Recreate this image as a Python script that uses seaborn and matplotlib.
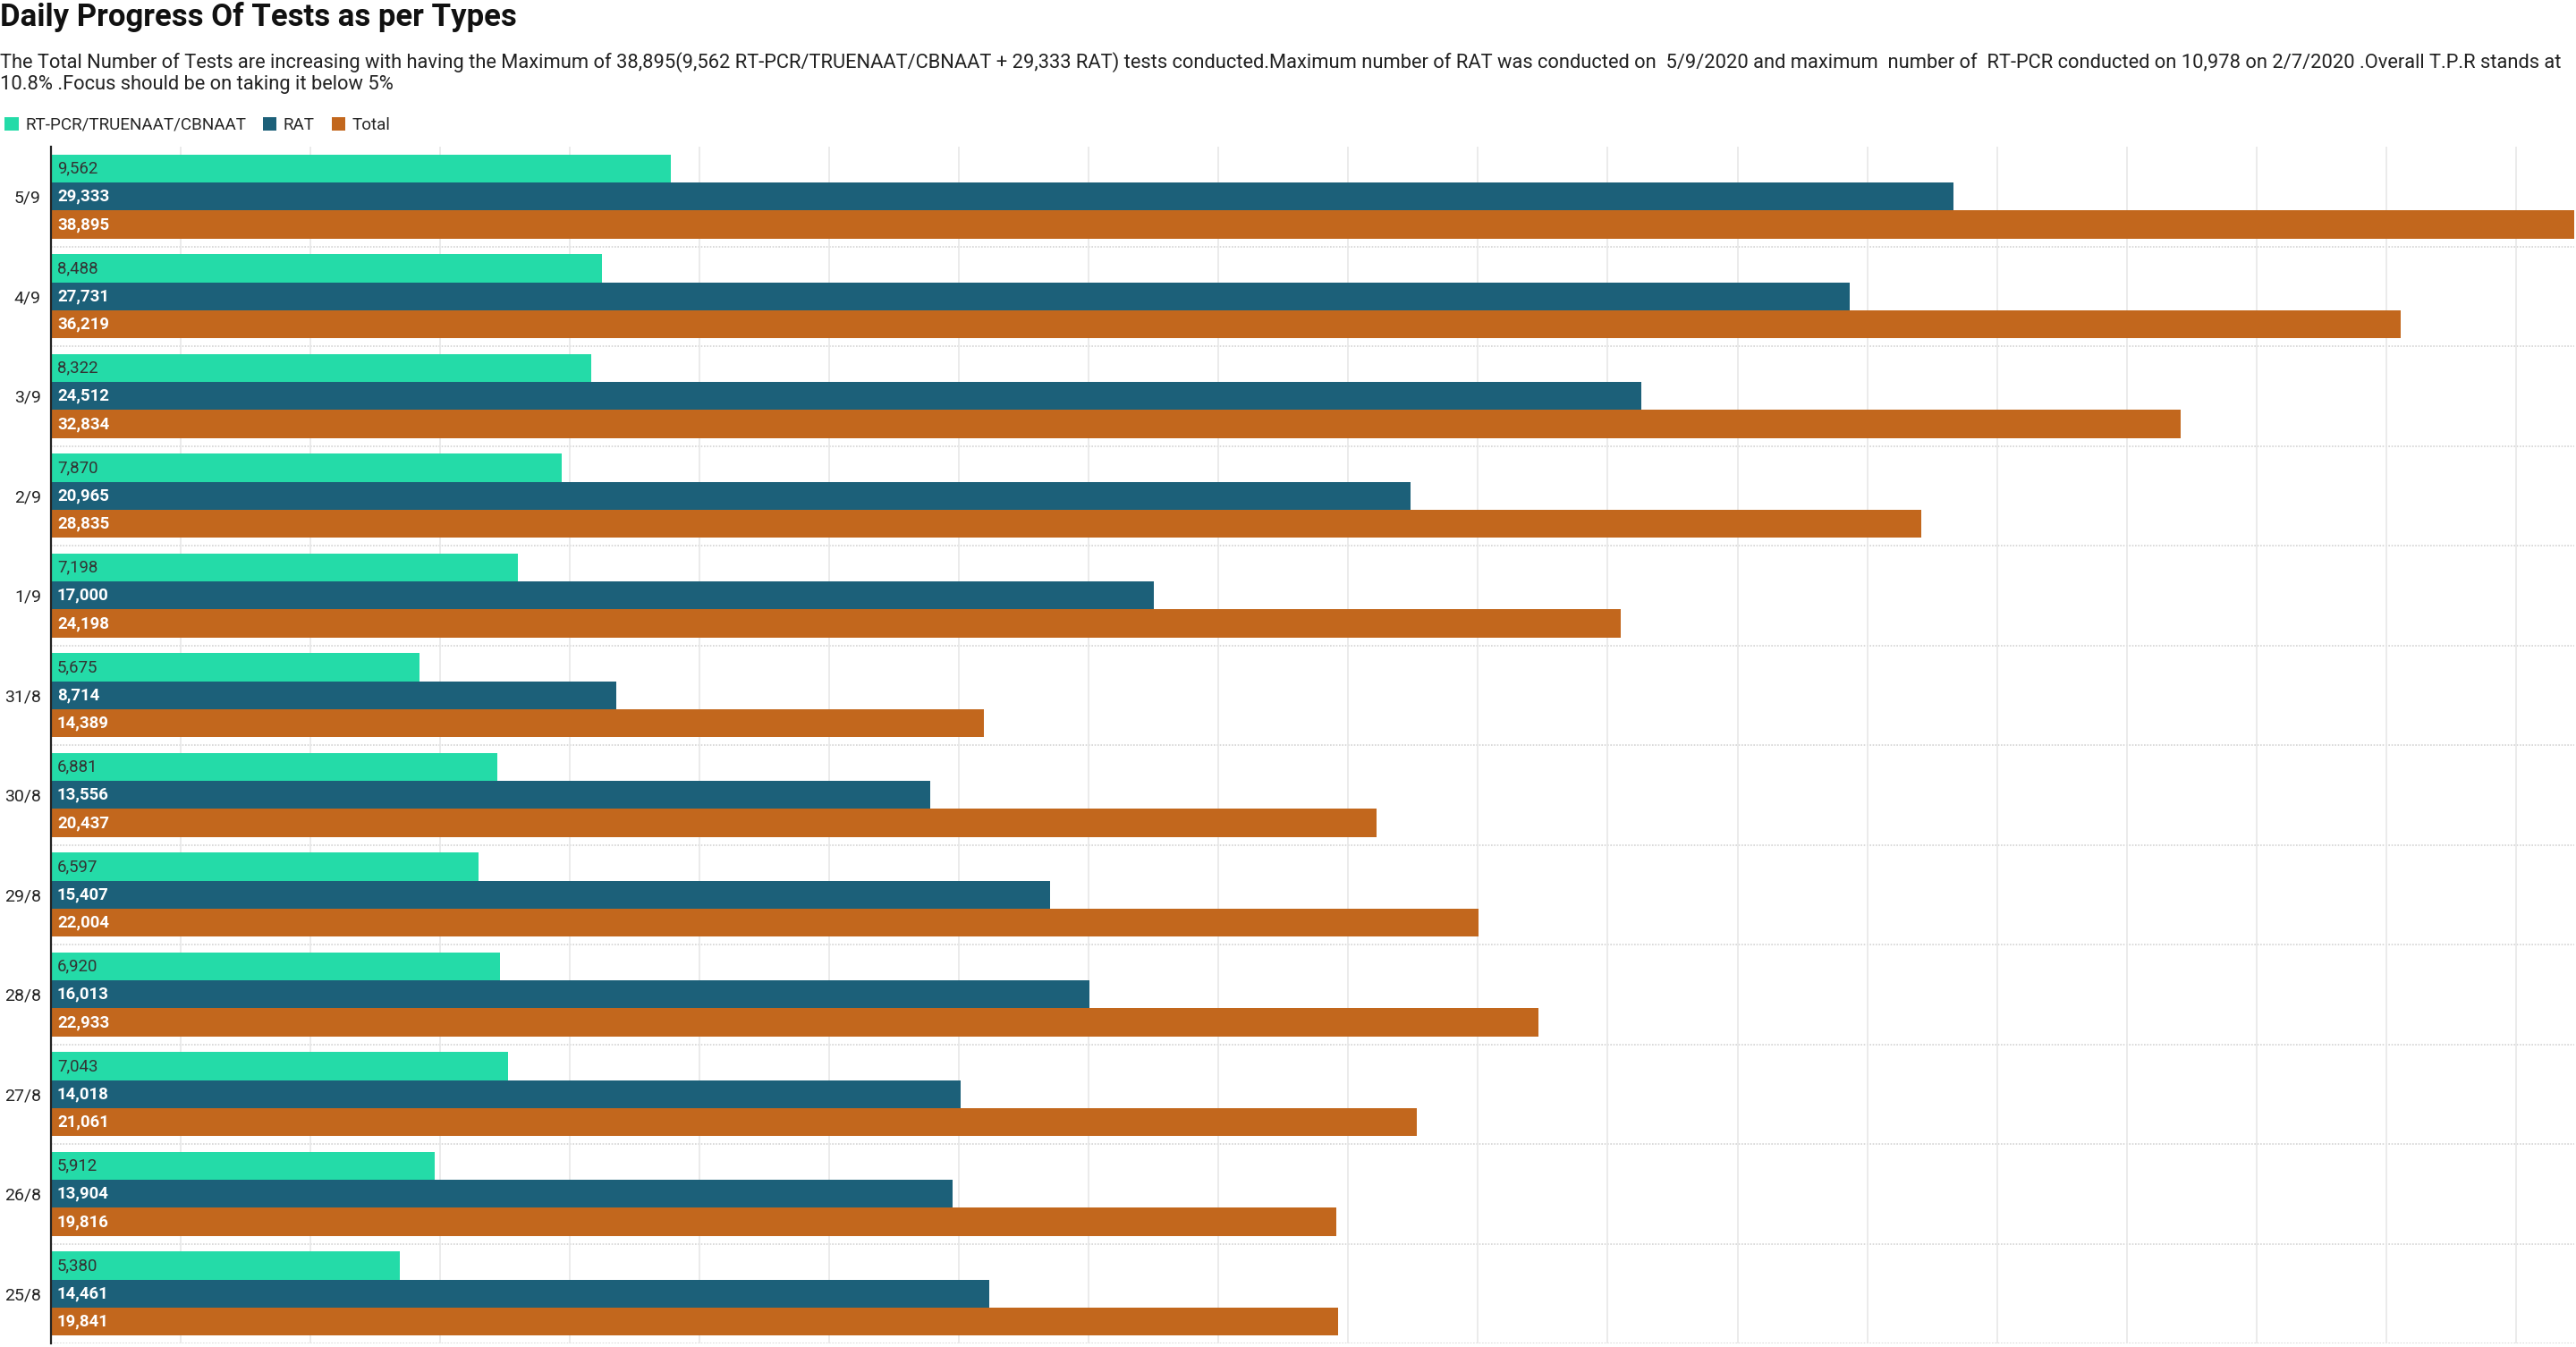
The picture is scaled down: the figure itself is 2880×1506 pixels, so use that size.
import matplotlib
matplotlib.use("Agg")
import matplotlib.pyplot as plt
import seaborn as sns
import pandas as pd

# data, top row first
dates = ["5/9", "4/9", "3/9", "2/9", "1/9", "31/8", "30/8", "29/8", "28/8", "27/8", "26/8", "25/8"]
rtpcr = [9562, 8488, 8322, 7870, 7198, 5675, 6881, 6597, 6920, 7043, 5912, 5380]
rat = [29333, 27731, 24512, 20965, 17000, 8714, 13556, 15407, 16013, 14018, 13904, 14461]
total = [38895, 36219, 32834, 28835, 24198, 14389, 20437, 22004, 22933, 21061, 19816, 19841]
series_names = ["RT-PCR/TRUENAAT/CBNAAT", "RAT", "Total"]
colors = ["#24DBA8", "#1C6079", "#C2671D"]

title = "Daily Progress Of Tests as per Types"
subtitle = ("The Total Number of Tests are increasing with having the Maximum of 38,895(9,562 RT-PCR/TRUENAAT/CBNAAT + "
            "29,333 RAT) tests conducted.Maximum number of RAT was conducted on  5/9/2020 and maximum  number of  "
            "RT-PCR conducted on 10,978 on 2/7/2020 .Overall T.P.R stands at\n"
            "10.8% .Focus should be on taking it below 5%")

rows = []
for name, vals in zip(series_names, [rtpcr, rat, total]):
    for d, v in zip(dates, vals):
        rows.append({"date": d, "tests": v, "type": name})
df = pd.DataFrame(rows)

sns.set_style("white")
plt.rcParams["font.family"] = ["Roboto", "DejaVu Sans"]

fig = plt.figure(figsize=(14.4, 7.53), dpi=200)
ax = fig.add_axes([57 / 2880, 4 / 1506, 1 - 59 / 2880, (1502 - 164) / 1506])

sns.barplot(data=df, y="date", x="tests", hue="type", orient="h",
            order=dates, hue_order=series_names, palette=colors,
            width=0.84, saturation=1, linewidth=0, ax=ax)

handles, labels = ax.get_legend_handles_labels()
ax.get_legend().remove()

ax.set_xlim(0, 38900)
ax.set_ylim(len(dates) - 0.5, -0.5)
ax.set_xticks(range(0, 38901, 2000))
ax.tick_params(axis="x", length=0, labelbottom=False)
ax.tick_params(axis="y", length=0, pad=4, labelsize=7, labelcolor="#222222")
ax.set_xlabel("")
ax.set_ylabel("")
ax.set_axisbelow(True)
ax.grid(axis="x", color="#e8e8e8", lw=0.6)
for i in range(len(dates)):
    ax.axhline(i + 0.5, color="#d4d4d4", lw=0.6, ls=(0, (1, 1)), zorder=0)

for s in ["top", "right", "bottom"]:
    ax.spines[s].set_visible(False)
ax.spines["left"].set_color("#222222")
ax.spines["left"].set_linewidth(0.8)

# value labels inside bar start
label_colors = ["#333333", "white", "white"]
for cont, vals, lc in zip(ax.containers, [rtpcr, rat, total], label_colors):
    for patch, v in zip(cont.patches, vals):
        yc = patch.get_y() + patch.get_height() / 2
        ax.annotate(f"{v:,}", xy=(0, yc), xytext=(2.5, 0), textcoords="offset points",
                    ha="left", va="center", fontsize=6.7, color=lc,
                    fontweight="normal" if lc != "white" else "bold")

fig.text(0.0, 1 - 19 / 1506, title, fontsize=12.5, fontweight="bold", va="center", ha="left", color="#111111")
fig.text(0.0, 1 - 58 / 1506, subtitle, fontsize=7.9, va="top", ha="left", color="#222222", linespacing=1.2)

fig.legend(handles, labels, loc="center left", bbox_to_anchor=(-0.004, 1 - 140 / 1506), ncol=3,
           frameon=False, fontsize=6.8, handlelength=0.8, handleheight=0.8, handletextpad=0.4,
           columnspacing=1.0)

fig.savefig("out.png", dpi=200, facecolor="white")
